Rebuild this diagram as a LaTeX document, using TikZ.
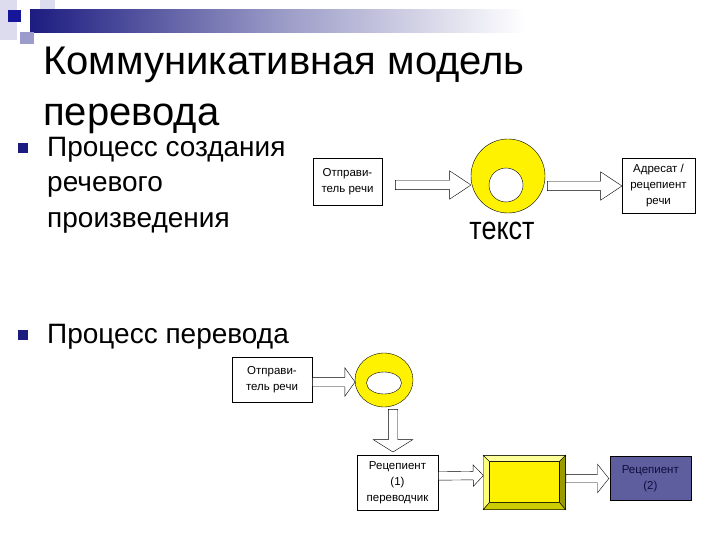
\documentclass[tikz,border=0pt]{standalone}
\usepackage{fontspec}
\setmainfont{Liberation Sans}
\usepackage{xcolor}
\usetikzlibrary{positioning,calc,shapes.geometric,shapes.arrows}

\definecolor{deepnavy}{HTML}{1C1C80}
\definecolor{slate}{HTML}{5E5E9E}
\definecolor{lightlav}{HTML}{DCDCEE}
\definecolor{midlav}{HTML}{9C9CCC}
\definecolor{lighty}{HTML}{FFFF99}
\definecolor{darky}{HTML}{9A9A00}
\definecolor{midy}{HTML}{CCCC00}

\newcommand{\blockarrow}[3][]{%
	\path let \p1=(#2), \p2=(#3),
	  \n1={veclen(\x2-\x1,\y2-\y1)}, \n2={atan2(\y2-\y1,\x2-\x1)} in
	  node[barrow, #1, minimum height=\n1, rotate=\n2, anchor=tail] at (\p1) {};}

\begin{document}
\begin{tikzpicture}[x=1pt, y=-1pt]
	\tikzstyle{box}
	  =[draw, fill=white, rectangle, align=center, inner sep=1pt,
	  font=\fontsize{11.5}{16}\selectfont]
	\tikzstyle{head}
	  =[anchor=base west, inner sep=0pt, font=\fontsize{40}{48}\selectfont]
	\tikzstyle{bul}
	  =[anchor=base west, inner sep=0pt, font=\fontsize{28}{34}\selectfont]
	\tikzstyle{sq}
	  =[fill=deepnavy, rectangle, minimum size=10pt, inner sep=0pt]
	\tikzstyle{barrow}
	  =[draw, fill=white, single arrow, inner xsep=0pt, inner ysep=4.5pt,
	  single arrow head extend=9.5pt, single arrow tip angle=67]
	\tikzstyle{ring}
	  =[draw, fill=yellow, inner sep=0pt]
	\tikzstyle{hole}
	  =[draw, fill=white, inner sep=0pt]

	\useasboundingbox (0,0) rectangle (720,540);

	\fill[lightlav] (0,0) rectangle (17,40);
	\fill[lightlav] (40,0) rectangle (55,9);
	\shade[left color=deepnavy, right color=white, middle color=deepnavy!45!white]
	  (30,10) rectangle (525,33);
	\fill[midlav] (20,32) rectangle (34,44);
	\fill[deepnavy!80!blue] (8,10) rectangle (21,22);

	\node[head] (T1) at (43,75) {Коммуникативная модель};
	\node[head] (T2) at (43,126) {перевода};

	\node[sq] (Q1) at (23,148) {};
	\node[bul] (L1) at (47,157) {Процесс создания};
	\node[bul] (L2) at (47,192) {речевого};
	\node[bul] (L3) at (47,227) {произведения};
	\node[sq] (Q2) at (23,335) {};
	\node[bul] (L4) at (47,343) {Процесс перевода};

	\node[box, minimum width=69pt, minimum height=47pt] (A)
	  at (347.5,181.5) {Отправи-\\тель речи};
	\node[ring, circle, minimum size=74pt] (B)
	  at (508,176) {};
	\node[hole, circle, minimum size=34pt] (B0)
	  at (506,185) {};
	\node[box, minimum width=73pt, minimum height=55pt] (C)
	  at (658.5,185.5) {Адресат /\\рецепиент\\речи};
	\node[anchor=base, inner sep=0pt, font=\fontsize{27}{30}\selectfont] (B1)
	  at (502,240) {\scalebox{1}[1.2]{текст}};

	\blockarrow{$(A.east)+(13,3.5)$}{$(B.west)+(0,9)$}
	\blockarrow{$(B.east)+(2,10)$}{$(C.west)+(0,0.5)$}

	\node[box, minimum width=80pt, minimum height=45pt] (F)
	  at (272,379.5) {Отправи-\\тель речи};
	\node[ring, ellipse, minimum width=58pt, minimum height=54pt] (G)
	  at (384,380) {};
	\node[hole, ellipse, minimum width=35pt, minimum height=22pt] (G0)
	  at (384,383) {};
	\node[box, minimum width=81pt, minimum height=55pt] (H)
	  at (397.5,482.5) {Рецепиент\\(1)\\переводчик};
	\node[draw, fill=yellow, minimum width=82pt, minimum height=54pt] (D)
	  [right=45pt of H] {};
	\node[draw, fill=yellow, minimum width=70pt, minimum height=41pt] (D0)
	  at ($(D.center)+(0,-0.5)$) {};
	\filldraw[fill=lighty] (D.north west) -- (D.north east)
	  -- (D0.north east) -- (D0.north west) -- cycle;
	\filldraw[fill=lighty!80!yellow] (D.north west) -- (D0.north west)
	  -- (D0.south west) -- (D.south west) -- cycle;
	\filldraw[fill=darky] (D.north east) -- (D.south east)
	  -- (D0.south east) -- (D0.north east) -- cycle;
	\filldraw[fill=midy] (D.south west) -- (D.south east)
	  -- (D0.south east) -- (D0.south west) -- cycle;
	\node[box, fill=slate, text=deepnavy!50!black, minimum width=81pt, minimum height=44pt] (I)
	  [right=44pt of D, yshift=4pt] {Рецепиент\\(2)};

	\blockarrow[single arrow head extend=9.5pt, single arrow tip angle=109]
	  {$(F.east)+(0,2.5)$}{$(G.west)+(0,2)$}
	\blockarrow[single arrow head extend=15pt, single arrow tip angle=116]
	  {$(G.south)+(9,2)$}{$(H.north)+(-4.5,-3)$}
	\blockarrow[inner ysep=4pt, single arrow head extend=6.5pt, single arrow tip angle=93]
	  {$(H.east)+(0,-6.5)$}{$(D.west)+(0,-7)$}
	\blockarrow[inner ysep=4pt, single arrow head extend=10pt, single arrow tip angle=103]
	  {$(D.east)+(0,-4)$}{$(I.west)+(-1,0)$}
\end{tikzpicture}
\end{document}
